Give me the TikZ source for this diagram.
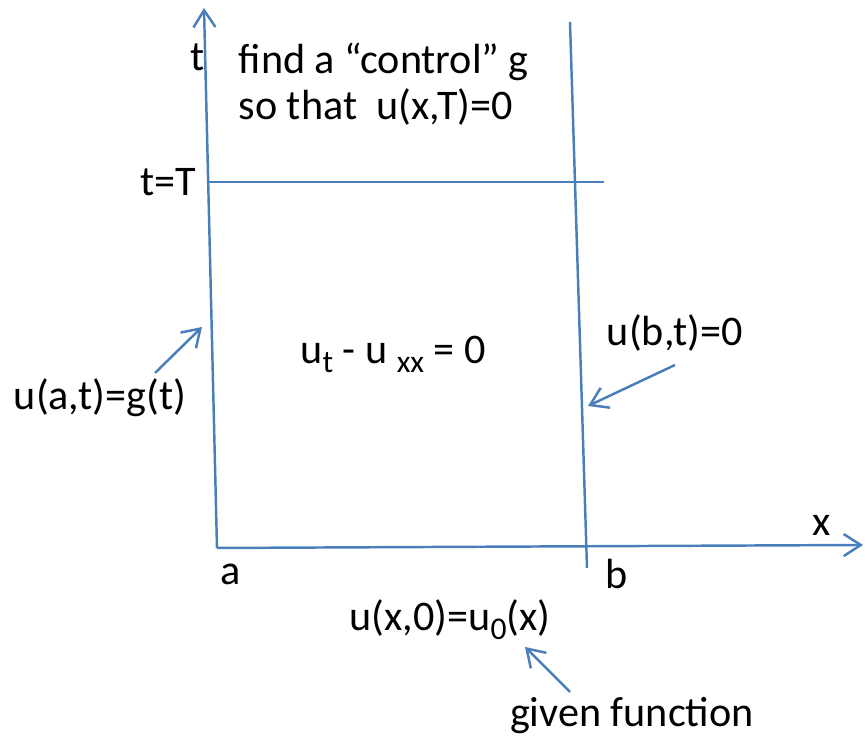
\documentclass[tikz,border=0pt]{standalone}
\usepackage{fontspec}
\setmainfont{Carlito}
\usetikzlibrary{arrows.meta}
\definecolor{lineblue}{HTML}{4A7EBB}
\newcommand{\lowsub}[1]{\raisebox{-0.45ex}{\fontsize{9}{10}\selectfont #1}}

\begin{document}
\begin{tikzpicture}[line width=0.7pt,
  every node/.style={font=\fontsize{12}{14}\selectfont, inner sep=1pt},
  tip/.style={-{Straight Barb[length=1.7mm,width=2.2mm]}}]
  \useasboundingbox (0,0) rectangle (8.65,7.37);
  % corners of the strip
  \coordinate (O) at (2.17,1.89);
  \coordinate (ttop) at (2.04,7.29);
  \coordinate (xend) at (8.63,1.92);
  \coordinate (btop) at (5.70,7.15);
  \coordinate (bbot) at (5.87,1.69);
  \coordinate (Tl) at (2.08,5.55);
  \coordinate (Tr) at (6.04,5.55);
  % axes and lines
  \draw[lineblue, tip] (O) -- (ttop);
  \draw[lineblue, tip] (O) -- (xend);
  \draw[lineblue] (btop) -- (bbot);
  \draw[lineblue] (Tl) -- (Tr);
  % labels
  \node (tlab) at (1.98,6.80) {t};
  \node[anchor=west] (find) at (2.34,6.75) {find a “control” g};
  \node[anchor=west] (sothat) at (2.34,6.30) {so that\ \ u(x,T)=0};
  \node[anchor=east] (tT) at (2.01,5.55) {t=T};
  \node (heat) at (3.93,3.83) {u\lowsub{t} - u \lowsub{xx} = 0};
  \node (bc) at (6.75,4.04) {u(b,t)=0};
  \node (ac) at (1.00,3.39) {u(a,t)=g(t)};
  \node (xlab) at (8.22,2.12) {x};
  \node (alab) at (2.31,1.63) {a};
  \node (blab) at (6.17,1.63) {b};
  \node (ic) at (4.50,1.17) {u(x,0)=u\lowsub{0}(x)};
  \node (given) at (6.32,0.21) {given function};
  % pointers
  \coordinate (afrom) at (1.55,3.64);
  \coordinate (ahit) at (2.02,4.10);
  \coordinate (bfrom) at (6.75,3.72);
  \coordinate (bhit) at (5.88,3.31);
  \coordinate (gfrom) at (5.70,0.45);
  \coordinate (ghit) at (5.25,0.90);
  \draw[lineblue, tip] (afrom) -- (ahit);
  \draw[lineblue, tip] (bfrom) -- (bhit);
  \draw[lineblue, tip] (gfrom) -- (ghit);
\end{tikzpicture}
\end{document}
